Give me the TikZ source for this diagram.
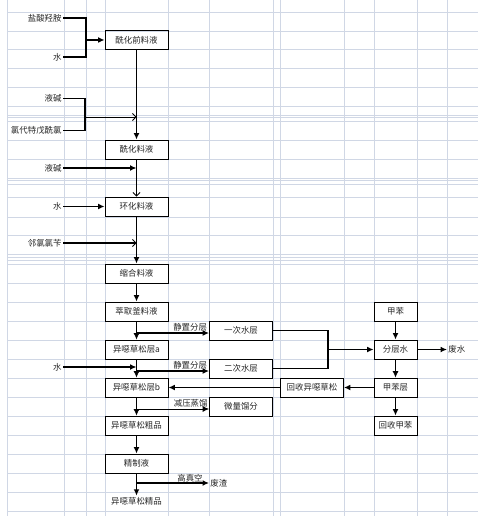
\documentclass[tikz,border=0pt]{standalone}
\usepackage{fontspec}
\newfontfamily\cjk{Noto Sans CJK SC}
\usetikzlibrary{arrows.meta}
\definecolor{gridc}{RGB}{208,215,229}
\tikzset{
  box/.style={draw,line width=0.7pt,minimum width=1.89cm,minimum height=0.57cm,inner sep=0pt},
  sbox/.style={box,minimum width=1.29cm},
  txt/.style={inner sep=1pt},
  lbl/.style={inner sep=1pt},
  thk/.style={line width=1.5pt},
  thn/.style={line width=0.6pt},
  arr/.style={-{Latex[length=5.5pt,width=5pt]}},
  varr/.style={-{Straight Barb[length=3pt,width=6pt,line width=0.7pt]}},
}
\begin{document}
\begin{tikzpicture}[x=0.03cm,y=-0.03cm,font=\cjk\fontsize{7.2}{8.6}\selectfont,text=black!85]
  \useasboundingbox (0,0) rectangle (478,516);

  % 表格网格线
  \foreach \gx in {7,64,86,105,168,209,273,280,344,374,417,447}
    \draw[gridc,line width=0.5pt] (\gx,0) -- (\gx,516);
  \foreach \gy in {12,31,49,68,87,106,115,117,121,140,159,178,180,184,197,217,235,254,257,260,264,283,302,321,340,359,378,397,416,435,454,473,492,511}
    \draw[gridc,line width=0.5pt] (7,\gy) -- (478,\gy);

  % 主流程
  \node[box] (qian) at (136.5,40) {酰化前料液};
  \node[box] (xh) at (136.5,149.5) {酰化料液};
  \node[box] (hh) at (136.5,206.5) {环化料液};
  \node[box] (sh) at (136.5,273.5) {缩合料液};
  \node[box] (cq) at (136.5,311.5) {萃取釜料液};
  \node[box] (ca) at (136.5,349.5) {异噁草松层a};
  \node[box] (cb) at (136.5,387.5) {异噁草松层b};
  \node[box] (cp) at (136.5,425.5) {异噁草松粗品};
  \node[box] (jz) at (136.5,463.5) {精制液};
  \node[txt] (jp) at (136.5,501) {异噁草松精品};

  % 分出的物料
  \node[box] (s1) at (241,330.5) {一次水层};
  \node[box] (s2) at (241,368.5) {二次水层};
  \node[box] (wl) at (241,406.5) {微量馏分};
  \node[box] (hs) at (312,387.5) {回收异噁草松};
  \node[txt,anchor=west] (fz) at (209,483) {废渣};

  % 甲苯萃取
  \node[sbox] (jb) at (395.5,311.5) {甲苯};
  \node[sbox] (fs) at (395.5,349.5) {分层水};
  \node[sbox] (jc) at (395.5,387.5) {甲苯层};
  \node[sbox] (hj) at (395.5,425.5) {回收甲苯};
  \node[txt,anchor=west] (fw) at (447,349.5) {废水};

  % 原料
  \node[txt,anchor=east] (in1) at (63,18) {盐酸羟胺};
  \node[txt,anchor=east] (in2) at (63,57) {水};
  \node[txt,anchor=east] (in3) at (63,98) {液碱};
  \node[txt,anchor=east] (in4) at (63,130) {氯代特戊酰氯};
  \node[txt,anchor=east] (in5) at (63,168) {液碱};
  \node[txt,anchor=east] (in6) at (63,206.5) {水};
  \node[txt,anchor=east] (in7) at (63,243) {邻氯氯苄};
  \node[txt,anchor=east] (in8) at (63,367) {水};

  % 盐酸羟胺 + 水
  \coordinate (j1) at (86,40);
  \draw[thk] (in1.east) -| (j1) |- (in2.east);
  \draw[thk,arr] (j1) -- (qian.west);

  % 液碱 + 氯代特戊酰氯
  \coordinate (j2) at (85,117);
  \coordinate (j3) at (136.5,117);
  \coordinate (m1) at (136.5,83);
  \draw[thn] (in3.east) -| (j2) |- (in4.east);
  \draw[thk] (in3.east -| j2) -- (in4.east -| j2);
  \draw[thn,varr] (j2) -- (j3);
  \draw[thk] (qian.south) -- (m1);
  \draw[thn] (m1) -- (j3);
  \draw[thk,arr] (j3) -- (xh.north);

  \draw[thk,arr] (in5.east) -- (in5.east -| xh.south);
  \draw[thk,varr] (xh.south) -- (hh.north);
  \draw[thk,arr] (in6.east) -- (hh.west);
  \draw[thk,varr] (in7.east) -- (in7.east -| hh.south);
  \draw[thk,arr] (hh.south) -- (sh.north);
  \draw[thk,arr] (sh.south) -- (cq.north);

  % 静置分层与蒸馏
  \coordinate (b1) at (136.5,333);
  \coordinate (b2) at (136.5,371);
  \coordinate (b3) at (136.5,409);
  \coordinate (b4) at (136.5,483);
  \draw[thn,arr] (cq.south) -- (ca.north);
  \draw[thk,arr] (b1) -- (b1 -| s1.west) node[lbl,above left,pos=1] {静置分层};
  \draw[thn,arr] (ca.south) -- (cb.north);
  \draw[thk,arr] (in8.east) -- (in8.east -| ca.south);
  \draw[thk,arr] (b2) -- (b2 -| s2.west) node[lbl,above left,pos=1] {静置分层};
  \draw[thn,arr] (cb.south) -- (cp.north);
  \draw[thn,arr] (b3) -- (b3 -| wl.west) node[lbl,above left,pos=1] {减压蒸馏};
  \draw[thk,arr] (cp.south) -- (jz.north);
  \draw[thk,arr] (jz.south) -- (jp.north);
  \draw[thk,arr] (b4) -- (fz.west);
  \node[lbl] (gzk) at (190,478) {高真空};

  % 水层合并去甲苯萃取
  \coordinate (r1) at (328,349.5);
  \draw[thk] (s1.east) -| (r1) |- (s2.east);
  \draw[thk,arr] (r1) -- (fs.west);
  \draw[thk,arr] (jb.south) -- (fs.north);
  \draw[thk,arr] (fs.east) -- (fw.west);
  \draw[thn,arr] (fs.south) -- (jc.north);
  \draw[thk,arr] (jc.west) -- (hs.east);
  \draw[thk,arr] (hs.west) -- (cb.east);
  \draw[thk,arr] (jc.south) -- (hj.north);
\end{tikzpicture}
\end{document}
